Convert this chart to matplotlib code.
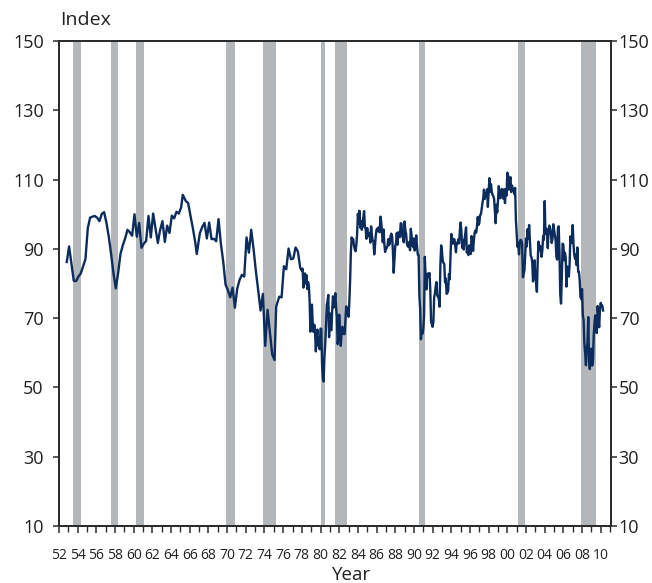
import matplotlib
matplotlib.use("Agg")
import matplotlib.pyplot as plt
import numpy as np
from matplotlib.ticker import FixedLocator, FixedFormatter

plt.rcParams['font.family'] = ['Open Sans', 'DejaVu Sans']

# ---- data ----
# Early survey readings (irregular / quarterly), decimal years
early_t = [1952.83, 1953.08, 1953.58, 1953.83, 1954.08, 1954.33, 1954.83,
           1955.08, 1955.33, 1955.58, 1955.83, 1956.08, 1956.33, 1956.58, 1956.83,
           1957.08, 1957.33, 1957.58, 1957.83, 1958.08, 1958.33, 1958.58, 1958.83,
           1959.08, 1959.33, 1959.58, 1959.83, 1960.08, 1960.33, 1960.58, 1960.83,
           1961.08, 1961.33, 1961.58, 1961.83, 1962.08, 1962.33, 1962.58, 1962.83,
           1963.08, 1963.33, 1963.58, 1963.83, 1964.08, 1964.33, 1964.58, 1964.83,
           1965.08, 1965.25, 1965.58, 1965.83, 1966.08, 1966.33, 1966.58, 1966.75,
           1967.08, 1967.33, 1967.58, 1967.83, 1968.08, 1968.33, 1968.58, 1968.83,
           1969.08, 1969.33, 1969.58, 1969.83, 1970.08, 1970.33, 1970.58, 1970.83,
           1971.08, 1971.33, 1971.58, 1971.83, 1972.08, 1972.33, 1972.58, 1972.83,
           1973.08, 1973.33, 1973.58, 1973.83, 1974.08, 1974.33, 1974.58, 1974.83,
           1975.08, 1975.25, 1975.58, 1975.83, 1976.08, 1976.33, 1976.58, 1976.83,
           1977.08, 1977.33, 1977.58, 1977.83]
early_v = [86.2, 90.7, 80.8, 80.7, 82.0, 82.9, 87.0,
           95.9, 99.0, 99.3, 99.5, 99.0, 98.0, 100.1, 100.6,
           97.5, 93.5, 88.5, 83.0, 78.6, 83.0, 88.5, 91.0,
           93.0, 95.5, 94.8, 93.8, 100.0, 93.5, 97.5, 90.3,
           91.5, 92.3, 99.5, 93.3, 100.2, 96.0, 91.7, 95.5,
           98.0, 92.0, 96.7, 94.6, 99.6, 98.8, 100.7, 100.2,
           102.0, 105.6, 103.8, 103.2, 99.5, 96.0, 92.0, 88.5,
           94.5, 96.3, 97.5, 93.0, 97.6, 92.8, 92.9, 92.2,
           98.6, 91.5, 86.4, 79.7, 78.1, 76.0, 78.8, 73.0,
           78.5, 81.0, 82.5, 82.0, 93.3, 88.9, 95.5, 90.0,
           83.5, 78.0, 72.2, 77.0, 62.0, 72.4, 66.0, 59.5,
           57.9, 73.3, 76.2, 76.0, 85.0, 84.1, 90.1, 87.0,
           87.2, 90.4, 89.2, 84.5]

# Monthly readings from January 1978
monthly_start = 1978
monthly_v = [
    83.7, 84.3, 78.8, 81.6, 82.9, 80.0, 82.4, 78.4, 80.4, 79.3, 75.0, 66.1,   # 1978
    72.1, 73.9, 68.4, 66.0, 68.1, 65.8, 60.4, 64.5, 66.7, 62.1, 63.3, 61.0,   # 1979
    67.0, 66.9, 56.5, 52.7, 51.7, 58.7, 62.3, 67.3, 73.7, 75.0, 76.7, 64.5,   # 1980
    71.4, 66.9, 66.5, 72.4, 76.3, 73.1, 74.1, 77.2, 73.1, 70.3, 62.5, 64.3,   # 1981
    71.0, 66.5, 62.0, 65.5, 67.5, 65.7, 65.4, 65.4, 69.3, 73.4, 72.1, 71.9,   # 1982
    70.4, 74.6, 80.8, 89.1, 93.3, 92.2, 92.8, 90.9, 89.9, 89.3, 91.1, 94.2,   # 1983
    100.1, 97.4, 101.0, 96.1, 98.1, 95.5, 96.6, 99.1, 100.9, 96.3, 95.7, 92.9, # 1984
    96.0, 93.7, 93.7, 94.6, 91.8, 96.5, 94.0, 92.4, 92.1, 88.4, 90.9, 93.9,   # 1985
    95.6, 95.9, 95.1, 96.2, 94.8, 99.3, 97.7, 94.9, 91.9, 95.6, 91.4, 89.1,   # 1986
    90.4, 90.2, 90.8, 92.8, 91.1, 91.5, 93.7, 94.4, 93.6, 89.3, 83.1, 86.8,   # 1987
    90.8, 91.6, 94.6, 91.2, 94.8, 94.7, 93.4, 97.4, 97.3, 94.1, 93.0, 91.9,   # 1988
    97.9, 95.4, 94.3, 91.5, 90.7, 90.6, 92.0, 89.6, 95.8, 93.9, 90.9, 90.5,   # 1989
    93.0, 89.5, 91.3, 93.9, 90.6, 88.3, 88.2, 76.4, 72.8, 63.9, 66.0, 65.5,   # 1990
    66.8, 70.4, 87.7, 81.8, 78.3, 82.1, 82.9, 82.0, 83.0, 78.3, 69.1, 68.2,   # 1991
    67.5, 68.8, 76.0, 77.2, 79.2, 80.4, 76.6, 76.1, 75.6, 73.3, 85.3, 91.0,   # 1992
    89.3, 86.6, 85.9, 85.6, 80.3, 81.5, 77.0, 77.3, 77.9, 82.7, 81.2, 88.2,   # 1993
    94.3, 93.2, 91.5, 92.6, 92.8, 91.2, 89.0, 91.7, 91.5, 92.7, 91.6, 95.1,   # 1994
    97.6, 95.1, 90.3, 92.5, 89.8, 92.7, 94.4, 96.2, 88.9, 90.2, 88.2, 91.0,   # 1995
    89.3, 88.5, 93.7, 92.7, 89.4, 92.4, 94.7, 95.3, 94.7, 96.5, 99.2, 96.9,   # 1996
    97.4, 99.7, 100.0, 101.4, 103.2, 104.5, 107.1, 104.4, 106.0, 105.6, 107.2, 102.1,  # 1997
    106.6, 110.4, 106.5, 108.7, 106.5, 105.6, 105.2, 104.4, 100.9, 97.4, 102.7, 100.5, # 1998
    103.9, 108.1, 105.7, 104.6, 106.8, 107.3, 106.0, 104.5, 107.2, 103.2, 107.2, 105.4, # 1999
    112.0, 111.3, 107.1, 109.2, 110.7, 106.4, 108.3, 107.3, 106.8, 105.8, 107.6, 98.4,  # 2000
    94.7, 90.6, 91.5, 88.4, 92.0, 92.6, 92.4, 91.5, 81.8, 82.7, 83.9, 88.8,   # 2001
    93.0, 90.7, 95.7, 93.0, 96.9, 92.4, 88.1, 87.6, 86.1, 80.6, 84.2, 86.7,   # 2002
    82.4, 79.9, 77.6, 86.0, 92.1, 89.7, 90.9, 89.3, 87.7, 89.6, 93.7, 92.6,   # 2003
    103.8, 94.4, 95.8, 94.2, 90.2, 95.6, 96.7, 95.9, 94.2, 91.7, 92.8, 97.1,  # 2004
    95.5, 94.1, 92.6, 87.7, 86.9, 96.0, 96.5, 89.1, 76.9, 74.2, 81.6, 91.5,   # 2005
    91.2, 86.7, 88.9, 87.4, 79.1, 84.9, 84.7, 82.0, 85.4, 93.6, 92.1, 91.7,   # 2006
    96.9, 91.3, 88.4, 87.1, 88.3, 85.3, 90.4, 83.4, 83.4, 80.9, 76.1, 75.5,   # 2007
    78.4, 70.8, 69.5, 62.6, 59.8, 56.4, 61.2, 63.0, 70.3, 57.6, 55.3, 60.1,   # 2008
    61.2, 56.3, 57.3, 65.1, 68.7, 70.8, 66.0, 65.7, 73.5, 70.6, 67.4, 72.5,   # 2009
    74.4, 73.6, 73.6, 72.2,                                                   # 2010
]

# NBER recessions (decimal years)
rec_start = [1953.50, 1957.58, 1960.25, 1969.92, 1973.83, 1980.00, 1981.50, 1990.50, 2001.17, 2007.92]
rec_end   = [1954.37, 1958.29, 1961.12, 1970.87, 1975.21, 1980.50, 1982.87, 1991.21, 2001.87, 2009.46]

y_ticks = [10, 30, 50, 70, 90, 110, 130, 150]
x_major = list(range(1952, 2011, 2))
x_labels = ['%02d' % (y % 100) for y in x_major]
x_minor = list(range(1953, 2012, 2))

# ---- build series ----
monthly_t = [monthly_start + i / 12.0 for i in range(len(monthly_v))]
t = np.array(early_t + monthly_t)
v = np.array(early_v + monthly_v)

text_color = '#231f20'
line_color = '#0b2c5c'
bar_color = '#b4b7b9'

W, H = 652, 583
fig = plt.figure(figsize=(W / 100, H / 100), dpi=100)
L, R, T, B = 59, 611, 41, 526
ax = fig.add_axes([L / W, 1 - B / H, (R - L) / W, (B - T) / H])

for s, e in zip(rec_start, rec_end):
    ax.axvspan(s, e, color=bar_color, lw=0, zorder=0)

ax.plot(t, v, color=line_color, lw=1.7, zorder=3, solid_joinstyle='round')

ax.set_xlim(1952, 2011.1)
ax.set_ylim(10, 150)

ax.xaxis.set_major_locator(FixedLocator(x_major))
ax.xaxis.set_major_formatter(FixedFormatter(x_labels))
ax.xaxis.set_minor_locator(FixedLocator(x_minor))
ax.set_yticks(y_ticks)

for sp in ax.spines.values():
    sp.set_linewidth(1.3)
    sp.set_color('#2b2b2b')

ax.tick_params(axis='x', which='major', direction='out', length=5, width=1.1,
               colors='#2b2b2b', labelcolor=text_color, labelsize=10, pad=11)
ax.tick_params(axis='x', which='minor', direction='out', length=4, width=1.0,
               colors='#2b2b2b')
ax.tick_params(axis='y', direction='out', length=4, width=1.1, colors='#2b2b2b',
               labelcolor=text_color, labelsize=13, pad=7)

ax2 = ax.twinx()
ax2.set_ylim(10, 150)
ax2.set_yticks(y_ticks)
ax2.tick_params(axis='y', direction='out', length=4, width=1.1, colors='#2b2b2b',
                labelcolor=text_color, labelsize=13, pad=1.5)
for sp in ax2.spines.values():
    sp.set_linewidth(1.3)
    sp.set_color('#2b2b2b')

fig.text(60 / W, 1 - 20 / H, 'Index', ha='left', va='center', fontsize=14, color=text_color)
fig.text(352 / W, 1 - 575 / H, 'Year', ha='center', va='center', fontsize=13.5, color=text_color)

fig.savefig('out.png', dpi=100)
